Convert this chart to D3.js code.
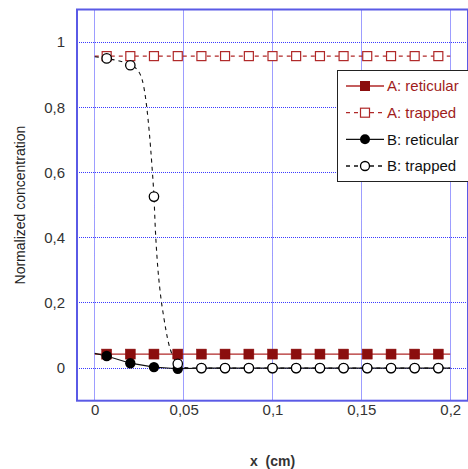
<!DOCTYPE html>
<html><head><meta charset="utf-8">
<script src="https://cdn.jsdelivr.net/npm/d3@7"></script>
<style>html,body{margin:0;padding:0;background:#fff;}svg{display:block;}</style>
</head><body>
<svg id="c" width="468" height="469"></svg>
<script>
// ---- data ----
const xMarkers = [0.0067,0.02,0.0333,0.0467,0.06,0.0733,0.0867,0.1,0.1133,0.1267,0.14,0.1533,0.1667,0.18,0.1933];
const aReticular = [0.043,0.043,0.043,0.043,0.043,0.043,0.043,0.043,0.043,0.043,0.043,0.043,0.043,0.043,0.043];
const aTrapped   = [0.957,0.957,0.957,0.957,0.957,0.957,0.957,0.957,0.957,0.957,0.957,0.957,0.957,0.957,0.957];
const bReticular = [0.037,0.015,0.003,-0.002,0,0,0,0,0,0,0,0,0,0,0];
const bTrapped   = [0.95,0.929,0.526,0.013,0,0,0,0,0,0,0,0,0,0,0];
// line end values (x=0 and x=0.2)
const lineStartX = 0, lineEndX = 0.2;
const aReticularEnds = [0.043,0.043];
const aTrappedEnds = [0.957,0.957];
const bReticularEnds = [0.045,0];
// smooth model curve for B trapped (dashed)
const bTrappedCurveX = [0,0.0067,0.02,0.0238,0.0275,0.0294,0.0307,0.0322,0.0333,0.0341,0.035,0.0369,0.0388,0.0416,0.0435,0.0467,0.05,0.06,0.2];
const bTrappedCurveY = [0.955,0.95,0.929,0.916,0.865,0.793,0.722,0.618,0.526,0.424,0.342,0.229,0.157,0.075,0.042,0.013,0.002,0,0];
const xTicks = [0,0.05,0.1,0.15,0.2];
const yTicks = [0,0.2,0.4,0.6,0.8,1];
const legendLabels = ["A: reticular","A: trapped","B: reticular","B: trapped"];

// ---- layout ----
const svg = d3.select("#c");
const L=77, T=9.5, R=468, B=400.7;
const x = d3.scaleLinear().domain([-0.01,0.21]).range([L,R]);
const y = d3.scaleLinear().domain([-0.1,1.1]).range([B,T]);
const fmt = d => String(+d.toFixed(2)).replace(".",",");
const red="#b02828", redFill="#8b0e0e";
const font="Arial, 'Liberation Sans', sans-serif";
const crisp = v => Math.round(v-0.5)+0.5;

svg.append("rect").attr("x",L).attr("y",T).attr("width",R-L).attr("height",B-T).attr("fill","#fff");

// grid
const grid = svg.append("g");
grid.selectAll("line.vx").data(xTicks).join("line")
  .attr("x1",d=>crisp(x(d))).attr("x2",d=>crisp(x(d))).attr("y1",T).attr("y2",B)
  .attr("stroke","#3a3aff").attr("stroke-width",1).attr("stroke-dasharray","1,1");
grid.selectAll("line.hy").data(yTicks).join("line")
  .attr("y1",d=>crisp(y(d))).attr("y2",d=>crisp(y(d))).attr("x1",L).attr("x2",R)
  .attr("stroke","#3a3aff").attr("stroke-width",1).attr("stroke-dasharray","1,1");

// axes
const xAxis = svg.append("g").attr("transform",`translate(0,${B})`)
  .call(d3.axisBottom(x).tickValues(xTicks).tickFormat(fmt).tickSize(0).tickPadding(4));
const yAxis = svg.append("g").attr("transform",`translate(${L},0)`)
  .call(d3.axisLeft(y).tickValues(yTicks).tickFormat(fmt).tickSize(0).tickPadding(12));
[xAxis,yAxis].forEach(g=>{
  g.select(".domain").remove();
  g.selectAll("text").attr("font-family",font).attr("font-size",15).attr("fill","#333");
});

// border
svg.append("rect").attr("x",L).attr("y",T).attr("width",R-L).attr("height",B-T)
  .attr("fill","none").attr("stroke","#5a5ae6").attr("stroke-width",2);

const line = d3.line().x(d=>x(d[0])).y(d=>y(d[1]));
const withEnds = (vals, ends) => [[lineStartX,ends[0]], ...xMarkers.map((v,i)=>[v,vals[i]]), [lineEndX,ends[1]]];

const plot = svg.append("g");
// A reticular
plot.append("path").attr("d",line(withEnds(aReticular,aReticularEnds))).attr("fill","none").attr("stroke",red).attr("stroke-width",1.3);
// A trapped
plot.append("path").attr("d",line(withEnds(aTrapped,aTrappedEnds))).attr("fill","none").attr("stroke",red).attr("stroke-width",1.1).attr("stroke-dasharray","4,4");
// B trapped curve
const curve = d3.line().x(d=>x(d[0])).y(d=>y(d[1])).curve(d3.curveMonotoneX);
plot.append("path").attr("d",curve(bTrappedCurveX.map((v,i)=>[v,bTrappedCurveY[i]]))).attr("fill","none").attr("stroke","#111").attr("stroke-width",1.1).attr("stroke-dasharray","4,4");
// B reticular line
plot.append("path").attr("d",line(withEnds(bReticular,bReticularEnds))).attr("fill","none").attr("stroke","#111").attr("stroke-width",1.2);

const sq=10;
plot.selectAll("rect.ar").data(xMarkers).join("rect")
  .attr("x",(d)=>x(d)-sq/2).attr("y",(d,i)=>y(aReticular[i])-sq/2).attr("width",sq).attr("height",sq)
  .attr("fill",redFill).attr("stroke",redFill).attr("stroke-width",0.5);
plot.selectAll("rect.at").data(xMarkers).join("rect")
  .attr("x",(d)=>x(d)-4.5).attr("y",(d,i)=>y(aTrapped[i])-4.5).attr("width",9).attr("height",9)
  .attr("fill","#fff").attr("stroke",red).attr("stroke-width",1.2);
plot.selectAll("circle.br").data(xMarkers).join("circle")
  .attr("cx",d=>x(d)).attr("cy",(d,i)=>y(bReticular[i])).attr("r",5.2).attr("fill","#000");
plot.selectAll("circle.bt").data(xMarkers).join("circle")
  .attr("cx",d=>x(d)).attr("cy",(d,i)=>y(bTrapped[i])).attr("r",4.7).attr("fill","#fff").attr("stroke","#000").attr("stroke-width",1.3);

// legend
const lg = svg.append("g");
lg.append("rect").attr("x",337.5).attr("y",70.5).attr("width",140).attr("height",111)
  .attr("fill","#fff").attr("stroke","#222").attr("stroke-width",1);
const rows = [86,112.7,139.3,166];
const styles = [
  {c:red, dash:null, m:"sqf"},
  {c:red, dash:"4,4", m:"sqo"},
  {c:"#111", dash:null, m:"cf"},
  {c:"#111", dash:"4,4", m:"co"}
];
legendLabels.forEach((lab,i)=>{
  const yy=rows[i], s=styles[i];
  lg.append("line").attr("x1",346).attr("x2",384).attr("y1",yy).attr("y2",yy)
    .attr("stroke",s.c).attr("stroke-width",1.3).attr("stroke-dasharray",s.dash);
  if(s.m==="sqf") lg.append("rect").attr("x",365-5).attr("y",yy-5).attr("width",10).attr("height",10).attr("fill",redFill);
  if(s.m==="sqo") lg.append("rect").attr("x",365-4.5).attr("y",yy-4.5).attr("width",9).attr("height",9).attr("fill","#fff").attr("stroke",red).attr("stroke-width",1.2);
  if(s.m==="cf") lg.append("circle").attr("cx",365).attr("cy",yy).attr("r",5).attr("fill","#000");
  if(s.m==="co") lg.append("circle").attr("cx",365).attr("cy",yy).attr("r",4.5).attr("fill","#fff").attr("stroke","#000").attr("stroke-width",1.3);
  lg.append("text").attr("x",387).attr("y",yy).attr("dy","0.36em")
    .attr("font-family",font).attr("font-size",15)
    .attr("fill", i<2 ? "#a01c1c" : "#111").text(lab);
});

// axis labels
svg.append("text").attr("x",(L+R)/2).attr("y",466).attr("text-anchor","middle")
  .attr("font-family",font).attr("font-size",14).attr("font-weight","bold").attr("fill","#333").attr("xml:space","preserve").text("x  (cm)");
svg.append("text").attr("transform",`translate(25,${(T+B)/2}) rotate(-90)`).attr("text-anchor","middle")
  .attr("font-family",font).attr("font-size",14).attr("fill","#222").text("Normalized concentration");
</script>
</body></html>
